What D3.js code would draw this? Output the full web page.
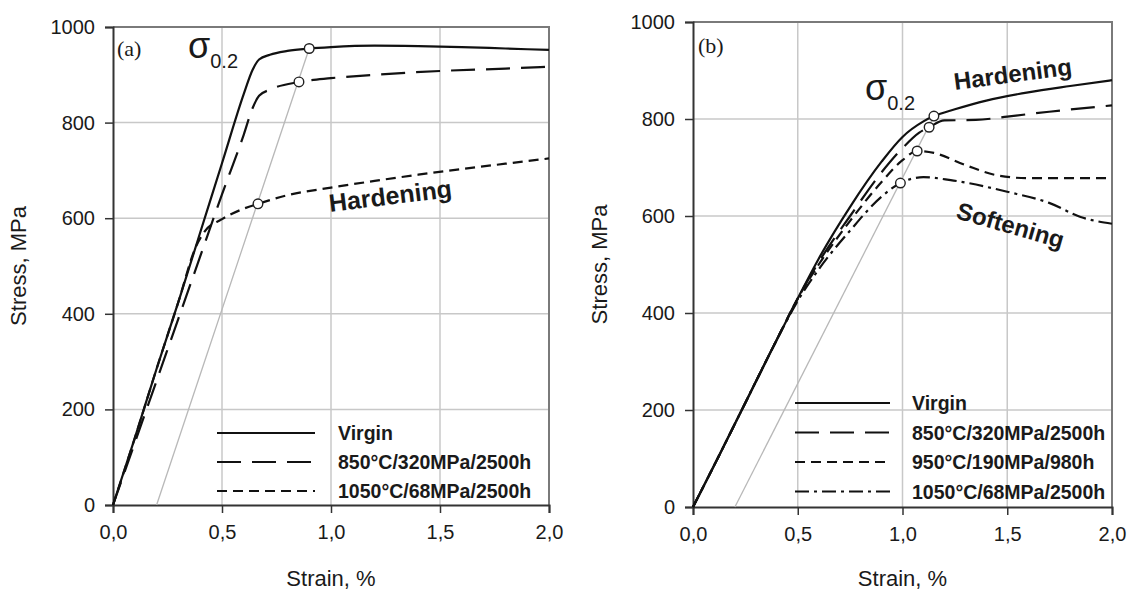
<!DOCTYPE html>
<html><head><meta charset="utf-8">
<script src="https://cdn.jsdelivr.net/npm/d3@7"></script>
<style>
html,body{margin:0;padding:0;background:#fff;}
svg text{font-family:"Liberation Sans",Arial,sans-serif;fill:#1a1a1a;}
</style></head>
<body><svg id="c" width="1128" height="593"></svg>
<script>
// ---------- data ----------
const xTicks = [0, 0.5, 1.0, 1.5, 2.0];
const xTickLabels = ["0,0", "0,5", "1,0", "1,5", "2,0"];
const yTicks = [0, 200, 400, 600, 800, 1000];

// Panel (a) series: [strain %, stress MPa]
const aVirgin = [[0,0],[0.1,140],[0.2,285],[0.3,425],[0.4,570],[0.5,715],[0.6,860],[0.64,910],[0.67,932],[0.72,942],[0.8,950],[0.9,955],[1.0,958],[1.2,961],[1.4,960],[1.6,958],[1.8,955],[2.0,952]];
const a850 = [[0,0],[0.1,130],[0.2,260],[0.3,390],[0.4,520],[0.5,650],[0.6,775],[0.64,830],[0.67,856],[0.72,869],[0.853,885],[1.0,893],[1.2,900],[1.5,908],[1.8,913],[2.0,917]];
const a1050 = [[0,0],[0.1,140],[0.2,285],[0.3,425],[0.38,540],[0.42,572],[0.5,598],[0.6,620],[0.665,630],[0.8,648],[1.0,664],[1.2,678],[1.4,691],[1.6,703],[1.8,714],[2.0,725]];
const aYield = [[0.9,955],[0.853,885],[0.665,630]];
const aOffset = [[0.2,0],[0.9,955]];

// Panel (b) series
const bVirgin = [[0,0],[0.1,85],[0.25,215],[0.4,345],[0.5,430],[0.6,512],[0.75,619],[0.9,712],[1.0,763],[1.1,795],[1.15,806],[1.25,820],[1.4,838],[1.6,855],[1.8,868],[2.0,880]];
const b850 = [[0,0],[0.1,85],[0.25,215],[0.4,345],[0.5,430],[0.6,505],[0.75,600],[0.9,690],[1.0,740],[1.08,772],[1.127,783],[1.2,797],[1.35,798],[1.5,805],[1.7,815],[2.0,828]];
const b950 = [[0,0],[0.1,85],[0.25,215],[0.4,345],[0.5,430],[0.6,500],[0.75,590],[0.9,670],[1.0,715],[1.07,734],[1.15,730],[1.3,705],[1.45,684],[1.6,678],[1.8,678],[2.0,678]];
const b1050 = [[0,0],[0.1,85],[0.25,215],[0.4,345],[0.5,425],[0.6,490],[0.75,570],[0.9,640],[0.99,668],[1.1,680],[1.23,674],[1.5,650],[1.7,627],[1.85,598],[2.0,584]];
const bYield = [[1.15,806],[1.127,783],[1.07,734],[0.99,668]];
const bOffset = [[0.2,0],[1.15,806]];

const legendA = ["Virgin", "850°C/320MPa/2500h", "1050°C/68MPa/2500h"];
const legendB = ["Virgin", "850°C/320MPa/2500h", "950°C/190MPa/980h", "1050°C/68MPa/2500h"];

// ---------- drawing ----------
const svg = d3.select("#c");
const DASH = {solid: null, long: "24,11", short: "10,6", dashdot: "14,5,3,5"};

function panel(cfg){
  const g = svg.append("g");
  const x = d3.scaleLinear().domain([0,2]).range([cfg.x0, cfg.x1]);
  const y = d3.scaleLinear().domain([0,1000]).range([cfg.y0, cfg.y1]);
  // grid
  g.append("g").selectAll("line.v").data(xTicks.slice(1,-1)).join("line")
    .attr("x1", d=>x(d)).attr("x2", d=>x(d)).attr("y1", y(0)).attr("y2", y(1000))
    .attr("stroke","#c8c8c8").attr("stroke-width",1.5);
  g.append("g").selectAll("line.h").data(yTicks.slice(1,-1)).join("line")
    .attr("x1", x(0)).attr("x2", x(2)).attr("y1", d=>y(d)).attr("y2", d=>y(d))
    .attr("stroke","#c8c8c8").attr("stroke-width",1.5);
  // frame (top & right)
  g.append("path").attr("d", `M${x(0)},${y(1000)}H${x(2)}V${y(0)}`)
    .attr("fill","none").attr("stroke","#7a7a7a").attr("stroke-width",2);
  // axes
  const xa = g.append("g").attr("transform",`translate(0,${y(0)})`)
    .call(d3.axisBottom(x).tickValues(xTicks).tickFormat((d,i)=>xTickLabels[i]).tickSize(8).tickPadding(12));
  const ya = g.append("g").attr("transform",`translate(${x(0)},0)`)
    .call(d3.axisLeft(y).tickValues(yTicks).tickFormat(d3.format("d")).tickSize(8).tickPadding(10));
  [xa,ya].forEach(a=>{
    a.select(".domain").attr("stroke","#333").attr("stroke-width",2);
    a.selectAll(".tick line").attr("stroke","#333").attr("stroke-width",1.5);
    a.selectAll(".tick text").attr("font-size",20).attr("fill","#222")
      .attr("font-family","'Liberation Sans',Arial,sans-serif");
  });
  // axis titles
  g.append("text").attr("x",(x(0)+x(2))/2).attr("y",cfg.xTitleY).attr("text-anchor","middle")
    .attr("font-size",22).text("Strain, %");
  g.append("text").attr("transform",`translate(${cfg.yTitleX},${(y(0)+y(1000))/2}) rotate(-90)`)
    .attr("text-anchor","middle").attr("font-size",22).text("Stress, MPa");
  // offset line
  const line = d3.line().x(d=>x(d[0])).y(d=>y(d[1]));
  g.append("path").datum(cfg.offset).attr("d", line).attr("fill","none")
    .attr("stroke","#b8b8b8").attr("stroke-width",1.3);
  // curves
  const curve = d3.line().x(d=>x(d[0])).y(d=>y(d[1])).curve(d3.curveMonotoneX);
  cfg.series.forEach(s=>{
    g.append("path").datum(s.data).attr("d", curve).attr("fill","none")
      .attr("stroke","#111").attr("stroke-width",2.2)
      .attr("stroke-dasharray", DASH[s.style]);
  });
  // yield markers
  g.append("g").selectAll("circle").data(cfg.yieldPts).join("circle")
    .attr("cx", d=>x(d[0])).attr("cy", d=>y(d[1])).attr("r",4.8)
    .attr("fill","#fff").attr("stroke","#222").attr("stroke-width",1.4);
  // legend
  const lg = g.append("g");
  cfg.series.forEach((s,i)=>{
    const yy = cfg.legY + i*cfg.legDy;
    lg.append("line").attr("x1",cfg.legX0).attr("x2",cfg.legX1).attr("y1",yy).attr("y2",yy)
      .attr("stroke","#111").attr("stroke-width",2.2).attr("stroke-dasharray", DASH[s.style]);
    lg.append("text").attr("x",cfg.legTx).attr("y",yy+7).attr("font-size",19.5)
      .attr("font-weight","bold").text(s.name);
  });
  // panel letter
  g.append("text").attr("x",cfg.letter[0]).attr("y",cfg.letter[1]).attr("font-size",22)
    .style("font-family","'Liberation Serif','Times New Roman',serif").text(cfg.letterText);
  // sigma 0.2
  const sg = g.append("text").attr("x",cfg.sigma[0]).attr("y",cfg.sigma[1]).attr("font-size",36);
  sg.append("tspan").text("σ");
  sg.append("tspan").attr("font-size",20).attr("dy",10).text("0.2");
  // annotations
  cfg.notes.forEach(n=>{
    g.append("text").attr("transform",`translate(${n.x},${n.y}) rotate(${n.r})`)
      .attr("font-size",n.fs).attr("font-weight","bold").text(n.t);
  });
}

panel({
  x0:113, x1:549, y0:505, y1:27, xTitleY:586, yTitleX:26,
  offset:aOffset, yieldPts:aYield,
  series:[{data:aVirgin,style:"solid",name:legendA[0]},{data:a850,style:"long",name:legendA[1]},{data:a1050,style:"short",name:legendA[2]}],
  legX0:217, legX1:315, legTx:338, legY:433, legDy:29,
  letter:[117,56], letterText:"(a)", sigma:[188,58],
  notes:[{t:"Hardening",x:330,y:212,r:-7,fs:25}]
});
panel({
  x0:693, x1:1112, y0:507, y1:22, xTitleY:586, yTitleX:607,
  offset:bOffset, yieldPts:bYield,
  series:[{data:bVirgin,style:"solid",name:legendB[0]},{data:b850,style:"long",name:legendB[1]},{data:b950,style:"short",name:legendB[2]},{data:b1050,style:"dashdot",name:legendB[3]}],
  legX0:795, legX1:890, legTx:912, legY:403, legDy:29.5,
  letter:[698,53], letterText:"(b)", sigma:[865,100],
  notes:[{t:"Hardening",x:955,y:90,r:-7.5,fs:24},{t:"Softening",x:955,y:218,r:16,fs:24}]
});
</script></body></html>
